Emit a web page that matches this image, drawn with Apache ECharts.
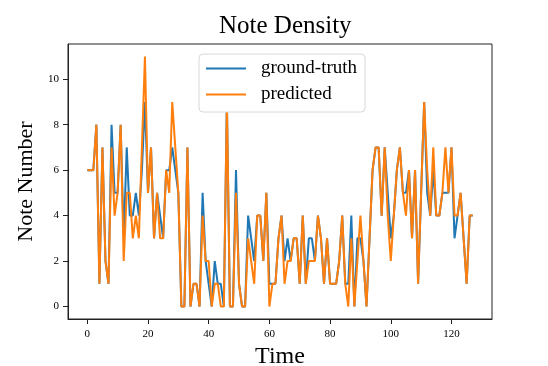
<!DOCTYPE html>
<html>
  <head>
    <meta charset="utf-8" />
    <title>Note Density</title>
    <style>
      body {
        margin: 0;
        padding: 0;
        background: #fff;
      }
      #chart {
        width: 548px;
        height: 366px;
      }
    </style>
    <script src="https://cdn.jsdelivr.net/npm/echarts@6/dist/echarts.min.js"></script>
  </head>
  <body>
    <div id="chart"></div>
  </body>
  <script>
    // values, one per time step (0..127)
    const groundTruth = [
      6, 6, 6, 8, 1, 7, 2, 1, 8, 5, 5, 8, 3, 7, 4, 4, 5, 4, 6, 9,
      5, 7, 3, 5, 4, 3, 6, 6, 7, 6, 5, 0, 0, 7, 0, 1, 1, 0, 5, 2,
      1, 0, 2, 1, 1, 0, 9, 0, 0, 6, 1, 0, 0, 4, 3, 2, 4, 4, 2, 5,
      1, 1, 1, 3, 4, 2, 3, 2, 3, 3, 1, 4, 1, 3, 3, 2, 4, 3, 1, 3,
      1, 1, 1, 2, 4, 1, 1, 4, 0, 3, 3, 2, 0, 3, 6, 7, 7, 4, 7, 5,
      3, 4, 6, 7, 5, 5, 6, 3, 6, 1, 5, 9, 5, 4, 6, 4, 4, 5, 5, 5,
      7, 3, 4, 5, 3, 1, 4, 4
    ];
    const predicted = [
      6, 6, 6, 8, 1, 7, 2, 1, 7, 4, 5, 8, 2, 5, 5, 3, 4, 3, 7, 11,
      5, 7, 3, 5, 3, 3, 6, 5, 9, 7, 5, 0, 0, 7, 0, 1, 1, 0, 4, 2,
      2, 0, 1, 1, 0, 0, 9, 0, 0, 5, 1, 0, 0, 3, 2, 1, 4, 4, 2, 5,
      0, 1, 1, 3, 4, 1, 2, 2, 3, 3, 1, 4, 1, 2, 2, 2, 4, 3, 1, 3,
      1, 1, 1, 2, 4, 1, 0, 3, 0, 2, 4, 2, 0, 3, 6, 7, 7, 4, 7, 4,
      2, 4, 6, 7, 5, 4, 6, 3, 6, 1, 5, 9, 6, 4, 7, 4, 4, 5, 7, 5,
      7, 4, 4, 5, 3, 1, 4, 4
    ];
    const xTicks = [0, 20, 40, 60, 80, 100, 120];
    const yTicks = [0, 2, 4, 6, 8, 10];

    const serif = "Liberation Serif";

    function pairs(arr) {
      return arr.map((v, i) => [i, v]);
    }

    const chart = echarts.init(document.getElementById("chart"));
    chart.setOption({
      animation: false,
      backgroundColor: "#fff",
      title: {
        text: "Note Density",
        left: 214,
        top: 9,
        textStyle: {
          fontFamily: serif,
          fontSize: 25,
          fontWeight: "normal",
          color: "#000",
        },
      },
      legend: {
        orient: "vertical",
        left: 199,
        top: 54,
        padding: [5, 8, 8, 7],
        itemGap: 7,
        itemWidth: 40,
        itemHeight: 2,
        icon: "rect",
        backgroundColor: "#fff",
        borderColor: "#d8d8d8",
        borderWidth: 1,
        borderRadius: 4,
        textStyle: {
          fontFamily: serif,
          fontSize: 19,
          color: "#000",
          padding: [0, 0, 0, 10],
        },
        data: ["ground-truth", "predicted"],
      },
      grid: {
        left: 68,
        right: 56,
        top: 44,
        bottom: 47,
        outerBoundsMode: "none",
        show: true,
        borderColor: "#222",
        borderWidth: 1,
      },
      xAxis: {
        type: "value",
        min: -6.35,
        max: 133.35,
        name: "Time",
        nameLocation: "middle",
        nameGap: 24,
        nameTextStyle: { fontFamily: serif, fontSize: 24, color: "#000" },
        axisLine: { show: true, onZero: false, lineStyle: { color: "#222", width: 1 } },
        splitLine: { show: false },
        axisTick: {
          show: true,
          length: 5,
          customValues: xTicks,
          lineStyle: { color: "#222" },
        },
        axisLabel: {
          customValues: xTicks,
          fontFamily: serif,
          fontSize: 11,
          color: "#000",
          margin: 10,
        },
      },
      yAxis: {
        type: "value",
        min: -0.55,
        max: 11.55,
        name: "Note Number",
        nameLocation: "middle",
        nameGap: 30,
        nameTextStyle: { fontFamily: serif, fontSize: 22, color: "#000" },
        axisLine: { show: true, onZero: false, lineStyle: { color: "#222", width: 1 } },
        splitLine: { show: false },
        axisTick: {
          show: true,
          length: 5,
          customValues: yTicks,
          lineStyle: { color: "#222" },
        },
        axisLabel: {
          customValues: yTicks,
          fontFamily: serif,
          fontSize: 11,
          color: "#000",
          margin: 9,
        },
      },
      series: [
        {
          name: "ground-truth",
          type: "line",
          data: pairs(groundTruth),
          showSymbol: false,
          color: "#1f77b4",
          lineStyle: { width: 2, color: "#1f77b4" },
        },
        {
          name: "predicted",
          type: "line",
          data: pairs(predicted),
          showSymbol: false,
          color: "#ff7f0e",
          lineStyle: { width: 2, color: "#ff7f0e" },
        },
      ],
    });
  </script>
</html>
